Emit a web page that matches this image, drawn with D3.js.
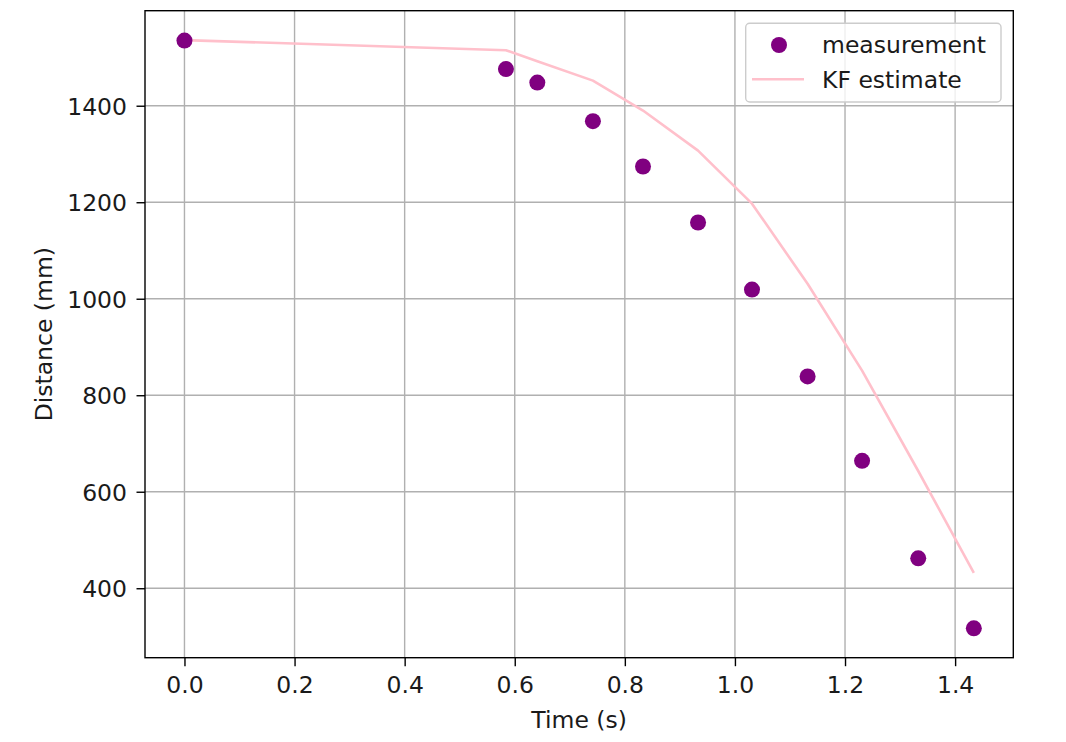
<!DOCTYPE html>
<html>
<head>
<meta charset="utf-8">
<script src="https://cdn.jsdelivr.net/npm/d3@7/dist/d3.min.js"></script>
<style>
  html, body { margin: 0; padding: 0; background: #fff; }
  svg { display: block; }
  text { font-family: "DejaVu Sans", sans-serif; fill: #1a1a1a; }
</style>
</head>
<body>
<svg id="chart" width="1066" height="742"></svg>
<script>
// ---- data ----
const times = [0.0, 0.584, 0.641, 0.742, 0.833, 0.933, 1.031, 1.132, 1.231, 1.333, 1.434];
const measurement = [1535, 1476, 1448, 1368, 1274, 1158, 1019, 839, 664, 462, 317];
const kfEstimate = [1536, 1515, 1492, 1452, 1390, 1307, 1197, 1031, 851, 643, 432];
const xTicks = [0.0, 0.2, 0.4, 0.6, 0.8, 1.0, 1.2, 1.4];
const yTicks = [400, 600, 800, 1000, 1200, 1400];
const seriesNames = ["measurement", "KF estimate"];

(function () {
// ---- layout ----
const pl = 145, pr = 1013.3, pt = 10.7, pb = 657.7;
const fontSize = 23.5;
const textColor = "#1a1a1a";

const xExt = d3.extent(times);
const xPad = (xExt[1] - xExt[0]) * 0.05;
const yAll = measurement.concat(kfEstimate);
const yExt = d3.extent(yAll);
const yPad = (yExt[1] - yExt[0]) * 0.05;

const x = d3.scaleLinear().domain([xExt[0] - xPad, xExt[1] + xPad]).range([pl, pr]);
const y = d3.scaleLinear().domain([yExt[0] - yPad, yExt[1] + yPad]).range([pb, pt]);

const svg = d3.select("#chart");

// grid
const grid = svg.append("g").attr("stroke", "#b0b0b0").attr("stroke-width", 1.4);
grid.selectAll("line.vx").data(xTicks).enter().append("line")
  .attr("x1", d => x(d)).attr("x2", d => x(d)).attr("y1", pt).attr("y2", pb);
grid.selectAll("line.hy").data(yTicks).enter().append("line")
  .attr("x1", pl).attr("x2", pr).attr("y1", d => y(d)).attr("y2", d => y(d));

// axes
const xAxis = d3.axisBottom(x).tickValues(xTicks).tickFormat(d3.format(".1f")).tickSize(8.5).tickPadding(9);
const yAxis = d3.axisLeft(y).tickValues(yTicks).tickFormat(d3.format("d")).tickSize(8.5).tickPadding(9.5);

const gx = svg.append("g").attr("transform", `translate(0,${pb})`).call(xAxis);
const gy = svg.append("g").attr("transform", `translate(${pl},0)`).call(yAxis);
[gx, gy].forEach(g => {
  g.select(".domain").remove();
  g.selectAll(".tick line").attr("stroke", "#000").attr("stroke-width", 1.4);
  g.selectAll(".tick text").attr("font-size", fontSize).attr("font-family", "DejaVu Sans").attr("fill", textColor);
});
gy.selectAll(".tick text").attr("dy", "0.36em");
gx.selectAll(".tick text").attr("dy", "0.76em");

// KF line
const line = d3.line().x((d, i) => x(times[i])).y(d => y(d));
svg.append("path").datum(kfEstimate)
  .attr("d", line)
  .attr("fill", "none")
  .attr("stroke", "pink")
  .attr("stroke-width", 2.6)
  .attr("stroke-linejoin", "round");

// measurement points
svg.selectAll("circle.meas").data(measurement).enter().append("circle")
  .attr("class", "meas")
  .attr("cx", (d, i) => x(times[i]))
  .attr("cy", d => y(d))
  .attr("r", 8)
  .attr("fill", "purple");

// frame
svg.append("rect")
  .attr("x", pl).attr("y", pt)
  .attr("width", pr - pl).attr("height", pb - pt)
  .attr("fill", "none").attr("stroke", "#000").attr("stroke-width", 1.4);

// axis labels
svg.append("text")
  .attr("x", (pl + pr) / 2).attr("y", 728)
  .attr("text-anchor", "middle").attr("font-size", fontSize)
  .text("Time (s)");
svg.append("text")
  .attr("transform", `translate(51.5,${(pt + pb) / 2}) rotate(-90)`)
  .attr("text-anchor", "middle").attr("font-size", fontSize)
  .text("Distance (mm)");

// legend
const lg = svg.append("g");
lg.append("rect")
  .attr("x", 745.7).attr("y", 23.3).attr("width", 255.3).attr("height", 78.7)
  .attr("rx", 4).attr("ry", 4)
  .attr("fill", "#fff").attr("fill-opacity", 0.8)
  .attr("stroke", "#cccccc").attr("stroke-width", 1.4);
lg.append("circle").attr("cx", 779).attr("cy", 45).attr("r", 8).attr("fill", "purple");
lg.append("line").attr("x1", 752).attr("x2", 804).attr("y1", 79.3).attr("y2", 79.3)
  .attr("stroke", "pink").attr("stroke-width", 2.6);
lg.append("text").attr("x", 822).attr("y", 45).attr("dy", "0.36em").attr("font-size", fontSize).text(seriesNames[0]);
lg.append("text").attr("x", 822).attr("y", 79.3).attr("dy", "0.36em").attr("font-size", fontSize).text(seriesNames[1]);
})();
</script>
</body>
</html>
